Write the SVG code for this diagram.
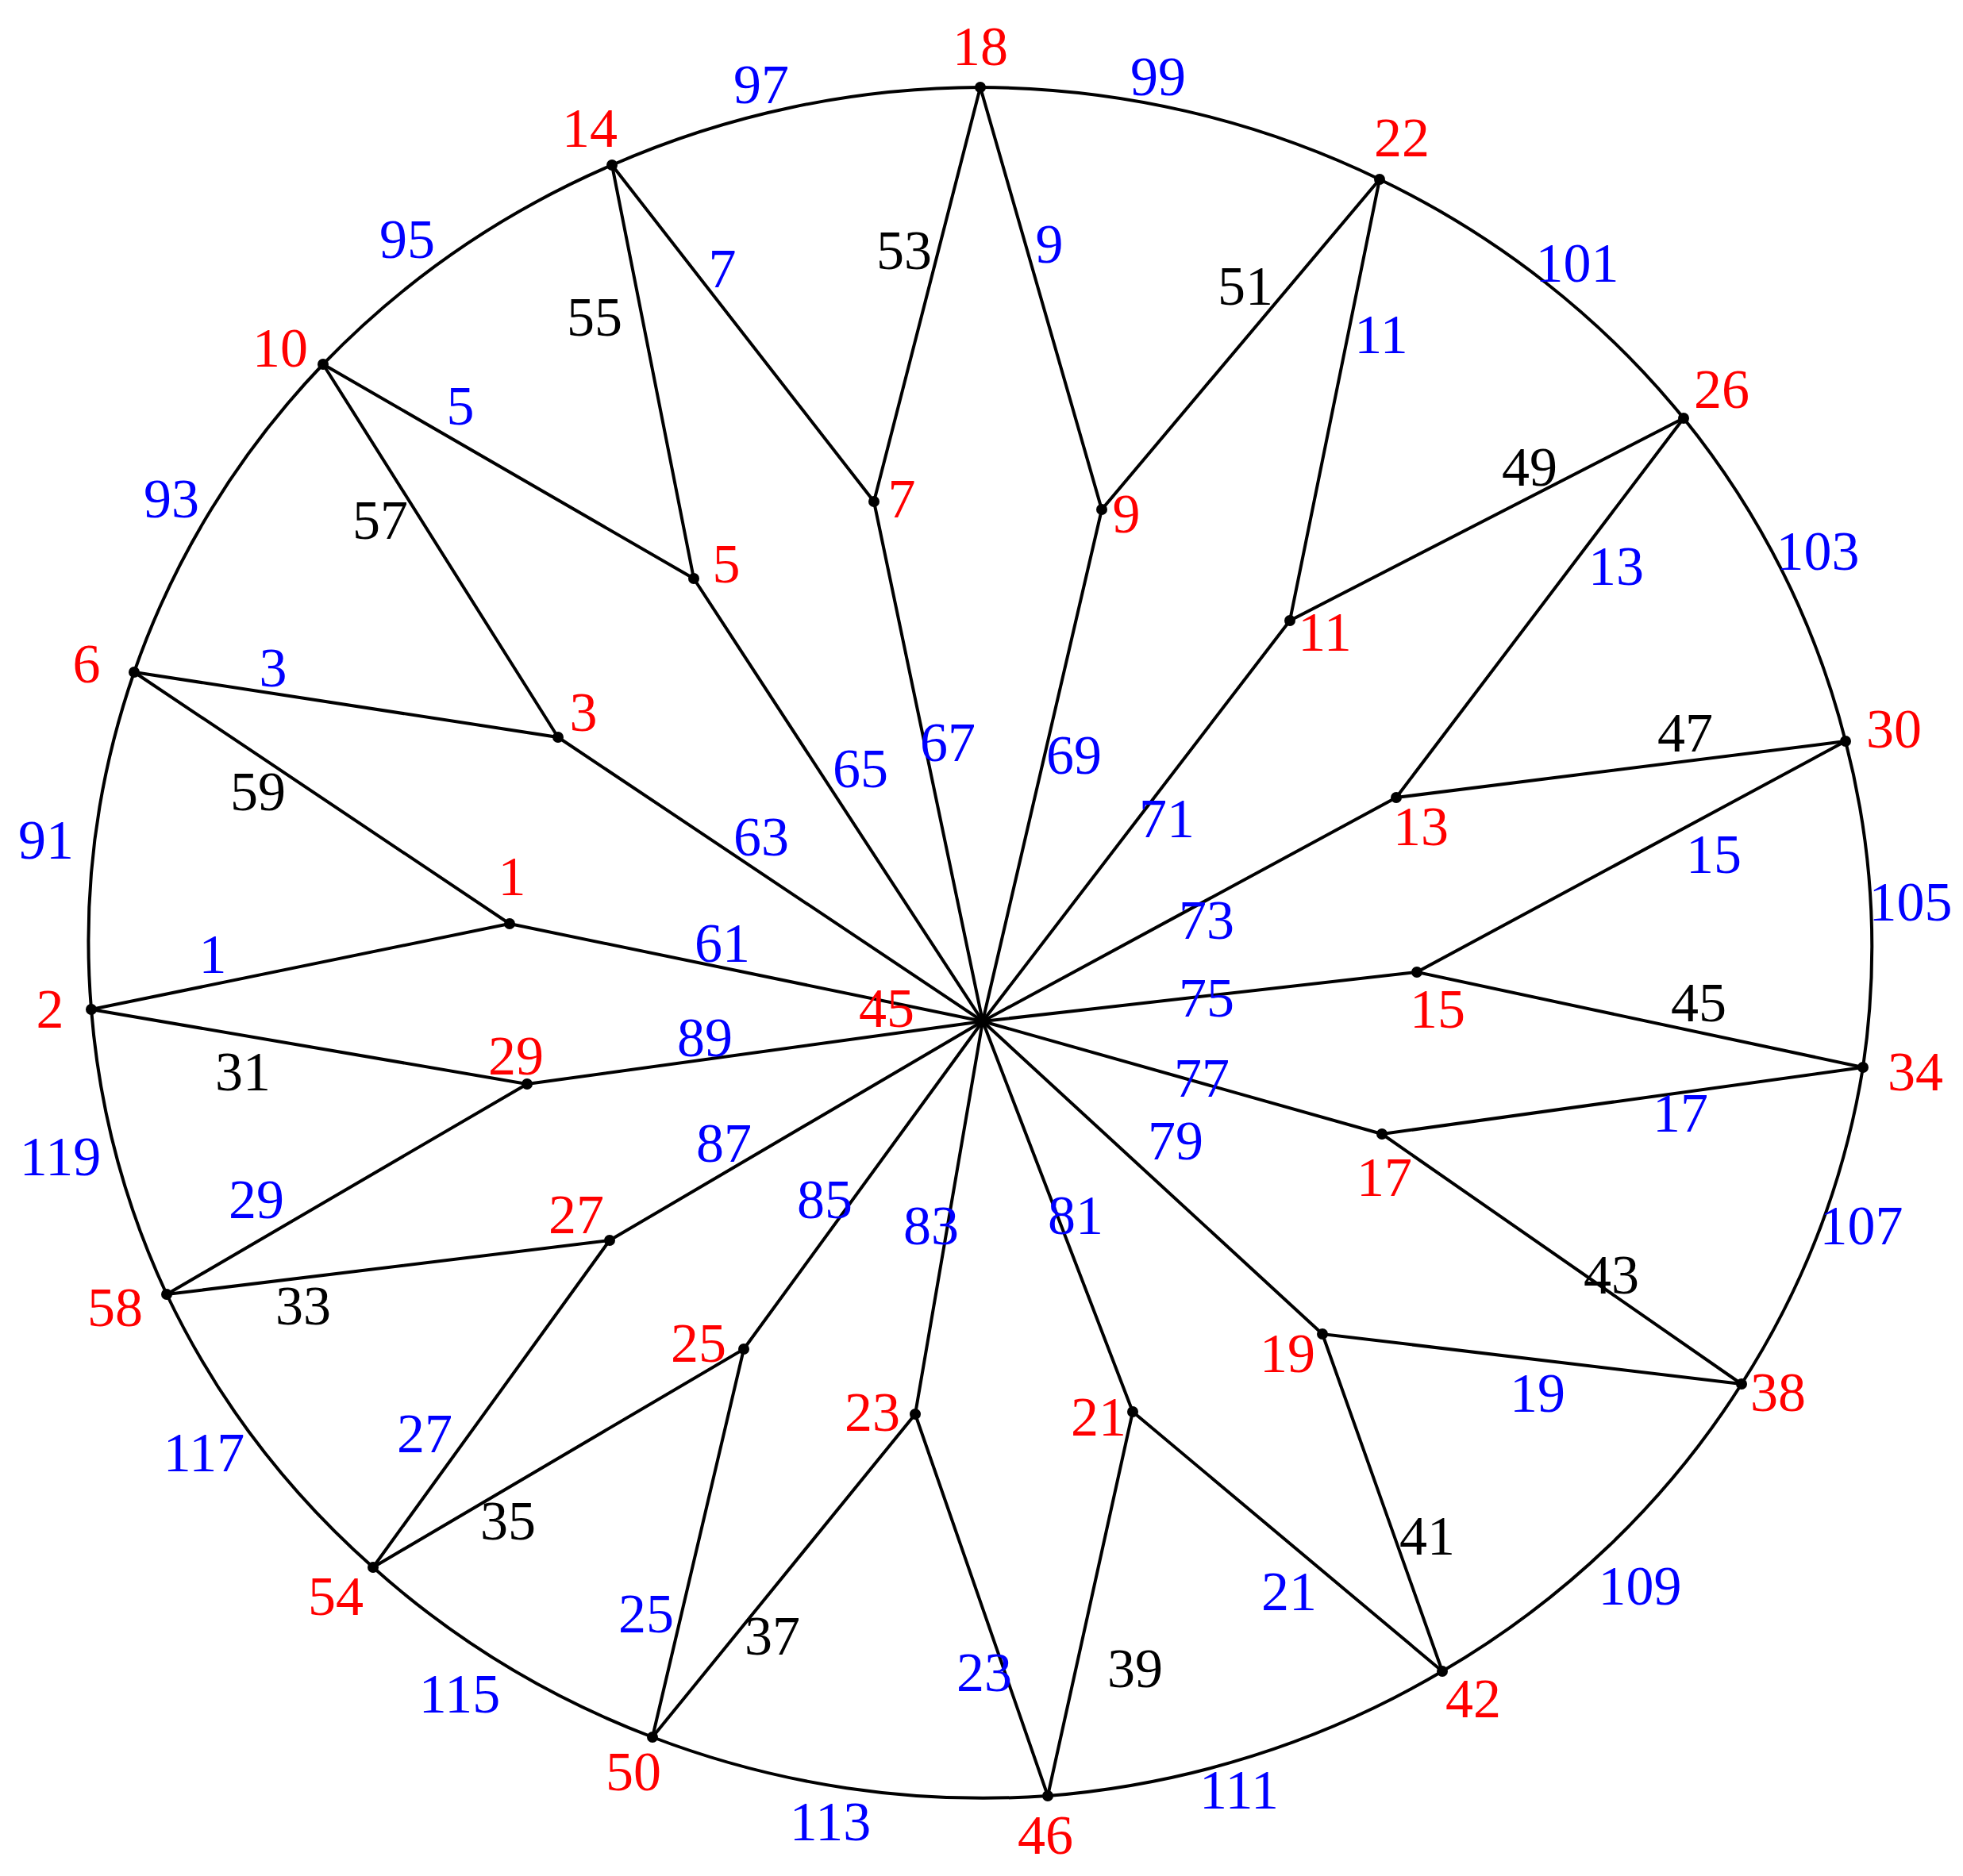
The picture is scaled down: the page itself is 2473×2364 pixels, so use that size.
<svg xmlns="http://www.w3.org/2000/svg" width="2473" height="2364" viewBox="0 0 2473 2364">
<style>
.e{stroke:#000;stroke-width:4;fill:none;stroke-linecap:round}
.d{fill:#000}
text{font-family:"Liberation Serif","Times New Roman",serif;font-size:70px;text-anchor:middle}
.r{fill:#ff0000}
.b{fill:#0000ff}
.k{fill:#000}
</style>
<rect width="2473" height="2364" fill="#fff"/>
<g id="connectors">
<path class="e" d="M1235,110 A1123,1077.5 0 0 1 1738,226"/>
<path class="e" d="M1738,226 A1123,1077.5 0 0 1 2121,527"/>
<path class="e" d="M2121,527 A1123,1077.5 0 0 1 2325,934"/>
<path class="e" d="M2325,934 A1123,1077.5 0 0 1 2347,1345"/>
<path class="e" d="M2347,1345 A1123,1077.5 0 0 1 2194,1744"/>
<path class="e" d="M2194,1744 A1123,1077.5 0 0 1 1817,2106"/>
<path class="e" d="M1817,2106 A1123,1077.5 0 0 1 1320,2263"/>
<path class="e" d="M1320,2263 A1123,1077.5 0 0 1 822,2189"/>
<path class="e" d="M822,2189 A1123,1077.5 0 0 1 470,1975"/>
<path class="e" d="M470,1975 A1123,1077.5 0 0 1 210,1631"/>
<path class="e" d="M210,1631 A1123,1077.5 0 0 1 115,1272"/>
<path class="e" d="M115,1272 A1123,1077.5 0 0 1 169,847"/>
<path class="e" d="M169,847 A1123,1077.5 0 0 1 407,459"/>
<path class="e" d="M407,459 A1123,1077.5 0 0 1 771,208"/>
<path class="e" d="M771,208 A1123,1077.5 0 0 1 1235,110"/>
<polyline class="e" points="115,1272 642,1164 169,847"/><line class="e" x1="642" y1="1164" x2="1238" y2="1287"/>
<polyline class="e" points="169,847 703,929 407,459"/><line class="e" x1="703" y1="929" x2="1238" y2="1287"/>
<polyline class="e" points="407,459 874,729 771,208"/><line class="e" x1="874" y1="729" x2="1238" y2="1287"/>
<polyline class="e" points="771,208 1101,632 1235,110"/><line class="e" x1="1101" y1="632" x2="1238" y2="1287"/>
<polyline class="e" points="1235,110 1388,642 1738,226"/><line class="e" x1="1388" y1="642" x2="1238" y2="1287"/>
<polyline class="e" points="1738,226 1625,782 2121,527"/><line class="e" x1="1625" y1="782" x2="1238" y2="1287"/>
<polyline class="e" points="2121,527 1759,1005 2325,934"/><line class="e" x1="1759" y1="1005" x2="1238" y2="1287"/>
<polyline class="e" points="2325,934 1785,1225 2347,1345"/><line class="e" x1="1785" y1="1225" x2="1238" y2="1287"/>
<polyline class="e" points="2347,1345 1741,1429 2194,1744"/><line class="e" x1="1741" y1="1429" x2="1238" y2="1287"/>
<polyline class="e" points="2194,1744 1666,1681 1817,2106"/><line class="e" x1="1666" y1="1681" x2="1238" y2="1287"/>
<polyline class="e" points="1817,2106 1427,1779 1320,2263"/><line class="e" x1="1427" y1="1779" x2="1238" y2="1287"/>
<polyline class="e" points="1320,2263 1153,1782 822,2189"/><line class="e" x1="1153" y1="1782" x2="1238" y2="1287"/>
<polyline class="e" points="822,2189 937,1700 470,1975"/><line class="e" x1="937" y1="1700" x2="1238" y2="1287"/>
<polyline class="e" points="470,1975 768,1563 210,1631"/><line class="e" x1="768" y1="1563" x2="1238" y2="1287"/>
<polyline class="e" points="210,1631 664,1366 115,1272"/><line class="e" x1="664" y1="1366" x2="1238" y2="1287"/>
<text class="b" x="268" y="1226">1</text>
<text class="b" x="910" y="1212">61</text>
<text class="k" x="325" y="1021">59</text>
<text class="b" x="344" y="865">3</text>
<text class="b" x="959" y="1078">63</text>
<text class="k" x="479" y="679">57</text>
<text class="b" x="580" y="535">5</text>
<text class="b" x="1084" y="992">65</text>
<text class="k" x="749" y="423">55</text>
<text class="b" x="910" y="362">7</text>
<text class="b" x="1194" y="959">67</text>
<text class="k" x="1139" y="339">53</text>
<text class="b" x="1322" y="331">9</text>
<text class="b" x="1353" y="975">69</text>
<text class="k" x="1569" y="384">51</text>
<text class="b" x="1740" y="445">11</text>
<text class="b" x="1470" y="1055">71</text>
<text class="k" x="1927" y="612">49</text>
<text class="b" x="2036" y="737">13</text>
<text class="b" x="1520" y="1183">73</text>
<text class="k" x="2123" y="947">47</text>
<text class="b" x="2159" y="1100">15</text>
<text class="b" x="1520" y="1281">75</text>
<text class="k" x="2140" y="1287">45</text>
<text class="b" x="2117" y="1426">17</text>
<text class="b" x="1514" y="1382">77</text>
<text class="k" x="2030" y="1630">43</text>
<text class="b" x="1937" y="1779">19</text>
<text class="b" x="1481" y="1461">79</text>
<text class="k" x="1798" y="1959">41</text>
<text class="b" x="1624" y="2029">21</text>
<text class="b" x="1355" y="1555">81</text>
<text class="k" x="1430" y="2126">39</text>
<text class="b" x="1240" y="2131">23</text>
<text class="b" x="1173" y="1568">83</text>
<text class="k" x="973" y="2085">37</text>
<text class="b" x="814" y="2057">25</text>
<text class="b" x="1039" y="1535">85</text>
<text class="k" x="640" y="1940">35</text>
<text class="b" x="535" y="1830">27</text>
<text class="b" x="912" y="1464">87</text>
<text class="k" x="382" y="1669">33</text>
<text class="b" x="323" y="1535">29</text>
<text class="b" x="888" y="1331">89</text>
<text class="k" x="306" y="1374">31</text>
<text class="b" x="58" y="1082">91</text>
<text class="b" x="216" y="652">93</text>
<text class="b" x="513" y="325">95</text>
<text class="b" x="959" y="130">97</text>
<text class="b" x="1459" y="120">99</text>
<text class="b" x="1987" y="355">101</text>
<text class="b" x="2290" y="718">103</text>
<text class="b" x="2407" y="1160">105</text>
<text class="b" x="2345" y="1568">107</text>
<text class="b" x="2066" y="2022">109</text>
<text class="b" x="1561" y="2279">111</text>
<text class="b" x="1046" y="2319">113</text>
<text class="b" x="579" y="2158">115</text>
<text class="b" x="257" y="1854">117</text>
<text class="b" x="76" y="1481">119</text>
</g>
<g id="n18"><circle class="d" cx="1235" cy="110" r="7"/><text class="r" x="1235" y="82">18</text></g>
<g id="n22"><circle class="d" cx="1738" cy="226" r="7"/><text class="r" x="1766" y="197">22</text></g>
<g id="n26"><circle class="d" cx="2121" cy="527" r="7"/><text class="r" x="2169" y="514">26</text></g>
<g id="n30"><circle class="d" cx="2325" cy="934" r="7"/><text class="r" x="2386" y="942">30</text></g>
<g id="n34"><circle class="d" cx="2347" cy="1345" r="7"/><text class="r" x="2413" y="1374">34</text></g>
<g id="n38"><circle class="d" cx="2194" cy="1744" r="7"/><text class="r" x="2240" y="1778">38</text></g>
<g id="n42"><circle class="d" cx="1817" cy="2106" r="7"/><text class="r" x="1856" y="2164">42</text></g>
<g id="n46"><circle class="d" cx="1320" cy="2263" r="7"/><text class="r" x="1317" y="2336">46</text></g>
<g id="n50"><circle class="d" cx="822" cy="2189" r="7"/><text class="r" x="798" y="2256">50</text></g>
<g id="n54"><circle class="d" cx="470" cy="1975" r="7"/><text class="r" x="423" y="2035">54</text></g>
<g id="n58"><circle class="d" cx="210" cy="1631" r="7"/><text class="r" x="145" y="1671">58</text></g>
<g id="n2"><circle class="d" cx="115" cy="1272" r="7"/><text class="r" x="63" y="1295">2</text></g>
<g id="n6"><circle class="d" cx="169" cy="847" r="7"/><text class="r" x="109" y="860">6</text></g>
<g id="n10"><circle class="d" cx="407" cy="459" r="7"/><text class="r" x="353" y="462">10</text></g>
<g id="n14"><circle class="d" cx="771" cy="208" r="7"/><text class="r" x="743" y="185">14</text></g>
<g id="n45"><circle class="d" cx="1238" cy="1287" r="7"/><text class="r" x="1117" y="1294">45</text></g>
<g id="n1"><circle class="d" cx="642" cy="1164" r="7"/><text class="r" x="645" y="1128">1</text></g>
<g id="n3"><circle class="d" cx="703" cy="929" r="7"/><text class="r" x="735" y="921">3</text></g>
<g id="n5"><circle class="d" cx="874" cy="729" r="7"/><text class="r" x="915" y="734">5</text></g>
<g id="n7"><circle class="d" cx="1101" cy="632" r="7"/><text class="r" x="1136" y="652">7</text></g>
<g id="n9"><circle class="d" cx="1388" cy="642" r="7"/><text class="r" x="1419" y="671">9</text></g>
<g id="n11"><circle class="d" cx="1625" cy="782" r="7"/><text class="r" x="1669" y="820">11</text></g>
<g id="n13"><circle class="d" cx="1759" cy="1005" r="7"/><text class="r" x="1790" y="1065">13</text></g>
<g id="n15"><circle class="d" cx="1785" cy="1225" r="7"/><text class="r" x="1811" y="1295">15</text></g>
<g id="n17"><circle class="d" cx="1741" cy="1429" r="7"/><text class="r" x="1744" y="1507">17</text></g>
<g id="n19"><circle class="d" cx="1666" cy="1681" r="7"/><text class="r" x="1622" y="1729">19</text></g>
<g id="n21"><circle class="d" cx="1427" cy="1779" r="7"/><text class="r" x="1384" y="1809">21</text></g>
<g id="n23"><circle class="d" cx="1153" cy="1782" r="7"/><text class="r" x="1099" y="1803">23</text></g>
<g id="n25"><circle class="d" cx="937" cy="1700" r="7"/><text class="r" x="880" y="1716">25</text></g>
<g id="n27"><circle class="d" cx="768" cy="1563" r="7"/><text class="r" x="726" y="1554">27</text></g>
<g id="n29"><circle class="d" cx="664" cy="1366" r="7"/><text class="r" x="650" y="1354">29</text></g>
</svg>
